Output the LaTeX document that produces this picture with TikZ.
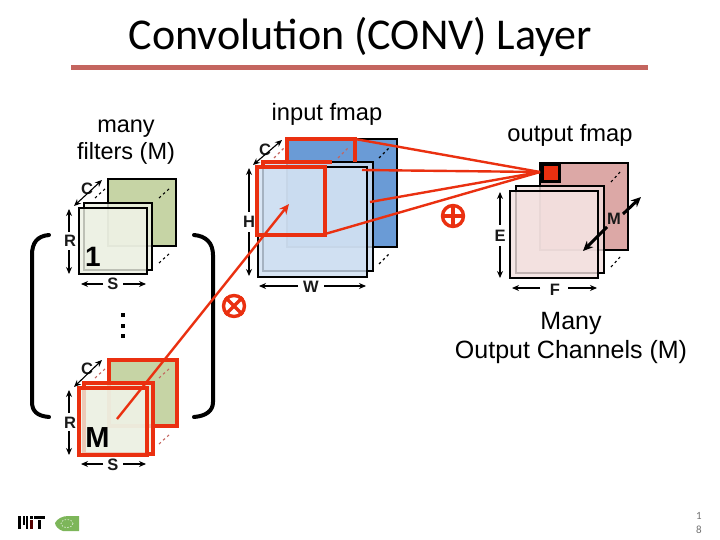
\documentclass[tikz,border=0pt]{standalone}
\usepackage{fontspec}
\setmainfont{Liberation Sans}
\newfontfamily\titlefont{Carlito}
\usetikzlibrary{arrows.meta}
\definecolor{redl}{HTML}{EA3010}
\definecolor{greenf}{HTML}{C6D4A5}
\definecolor{bluef}{HTML}{6A9BD6}
\definecolor{pinkf}{HTML}{DCA8A6}
\definecolor{greent}{HTML}{EDF1E3}
\definecolor{bluet}{HTML}{CFDFF2}
\definecolor{pinkt}{HTML}{F3E0DF}
\definecolor{rulec}{HTML}{C4655F}
\definecolor{leaf}{HTML}{7DB65A}
\tikzset{
 sheet/.style={draw=black,line width=2.7pt,fill=#1,fill opacity=0.8,draw opacity=1},
 backsheet/.style={draw=black,line width=2.7pt,fill=#1},
 redsheet/.style={draw=redl,line width=4pt,fill=#1,fill opacity=0.8,draw opacity=1},
 redback/.style={draw=redl,line width=4pt,fill=#1},
 redbox/.style={draw=redl,line width=3.6pt},
 redline/.style={draw=redl,line width=2.4pt},
 dim/.style={draw=black,line width=1.1pt,{Stealth[length=7pt,width=6pt]}-{Stealth[length=7pt,width=6pt]}},
 dimone/.style={draw=black,line width=1.1pt,-{Stealth[length=7pt,width=6pt]}},
 dots/.style={draw=#1,line width=1.1pt,dash pattern=on 2.5pt off 3pt},
 lab/.style={font=\bfseries\fontsize{16.5}{16.5}\selectfont,inner sep=0pt,text=black!90},
 txt/.style={font=\fontsize{23.7}{28}\selectfont,inner sep=0pt,align=center},
 opmark/.style={circle,draw=redl,line width=3.4pt,minimum size=21pt,inner sep=0pt},
 brack/.style={draw=black,line width=4pt,line cap=round},
}
\begin{document}
\begin{tikzpicture}[x=1pt,y=-1pt]
\useasboundingbox (0,0) rectangle (720,540);
\fill[white] (0,0) rectangle (720,540);
% title
\node[font=\titlefont\fontsize{44}{44}\selectfont,inner sep=0pt] (title) at (360.5,37) {Convolution (CONV) Layer};
\fill[rulec] (71,65.5) rectangle (648,70.5);
% labels
\node[txt] (tinput) at (327,114.5) {input fmap};
\node[txt] (toutput) at (570,135) {output fmap};
\node[txt,font=\fontsize{23.5}{27}\selectfont] (tmany) at (126,142.5) {many\\filters (M)};
\node[txt,font=\fontsize{25}{28.5}\selectfont] (tchan) at (571,338) {Many\\Output Channels (M)};
% filters top
\draw[backsheet=greenf] (108,179) rectangle (176,246);
\draw[sheet=greent] (84,203) rectangle (152,270);
\draw[sheet=greent] (79,208) rectangle (147,274);
\draw[dots=black] (95,198) -- (106,188);
\draw[dots=black] (159,198) -- (170,188);
\draw[dots=black] (159,263) -- (170,253);
\node[lab] (c1) at (87,189) {C};
\draw[dim] (74,206) -- (102,180);
\node[lab] (r1) at (70,241) {R};
\draw[dimone] (69,232) -- (69,209);
\draw[dimone] (69,250) -- (69,274);
\node[lab] (s1) at (113,284) {S};
\draw[dimone] (103,284) -- (81,284);
\draw[dimone] (123,284) -- (146,284);
\node[font=\bfseries\fontsize{28}{28}\selectfont,inner sep=0pt] (one) at (93,257) {1};
% filters bottom
\draw[redback=greenf] (109,360) rectangle (177,426);
\draw[redsheet=greent] (84,383) rectangle (153,454);
\draw[redsheet=greent] (79,388) rectangle (147,455);
\draw[dots=rulec] (95,378) -- (106,368);
\draw[dots=rulec] (159,378) -- (170,368);
\draw[dots=rulec] (159,444) -- (170,434);
\node[lab] (c2) at (87,369) {C};
\draw[dim] (74,387) -- (102,360);
\node[lab] (r2) at (70,423) {R};
\draw[dimone] (69,413) -- (69,390);
\draw[dimone] (69,431) -- (69,455);
\node[lab] (s2) at (113,465) {S};
\draw[dimone] (103,464) -- (81,464);
\draw[dimone] (123,464) -- (146,464);
\node[font=\fontsize{29}{29}\selectfont\bfseries,inner sep=0pt] (mm) at (97.5,438) {M};
% brackets
\draw[brack] (49,235) .. controls (37,236) and (32,243) .. (32,255) -- (32,402) .. controls (32,411) and (37,416) .. (49,417);
\draw[brack] (194,235) .. controls (206,236) and (213,243) .. (213,255) -- (213,402) .. controls (213,411) and (206,416) .. (194,417);
% vertical dots
\foreach \yy in {315,325.5,336} \fill[black] (120.5,\yy-2) rectangle (125,\yy+2);
% input fmap
\draw[backsheet=bluef] (287,139) rectangle (397,247);
\draw[sheet=bluet] (263,162) rectangle (373,271);
\draw[sheet=bluet] (258,167) rectangle (367,277);
\draw[dots=black] (379,158) -- (389,148);
\draw[dots=black] (379,264) -- (389,254);
\draw[dots=rulec] (274,158) -- (284,148);
\draw[dots=rulec] (338,158) -- (348,148);
% red windows on input
\draw[redbox] (287,162) |- (355,139) -- (355,162);
\draw[redbox] (263,167) |- (332,162);
\draw[redbox] (257,167) rectangle (325,235);
\node[lab] (c3) at (265,150) {C};
\draw[dim] (253,165) -- (282,140);
\node[lab] (h) at (249,222) {H};
\draw[dimone] (249,212) -- (249,168);
\draw[dimone] (249,232) -- (249,276);
\node[lab] (w) at (311,287) {W};
\draw[dimone] (298,286) -- (259,286);
\draw[dimone] (324,286) -- (366,286);
% output fmap
\draw[backsheet=pinkf] (540,163) rectangle (628,250);
\draw[sheet=pinkt] (516,186) rectangle (604,273);
\draw[sheet=pinkt] (510,191) rectangle (598,278);
\draw[dots=black] (611,182) -- (621,171);
\draw[dots=black] (611,267) -- (621,256);
\node[draw=black,line width=2.7pt,fill=redl,minimum size=17pt,inner sep=0pt,anchor=north west] (px) at (541,163.5) {};
% red lines
\coordinate (la) at (355,139);
\coordinate (lb) at (362,170);
\coordinate (lc) at (370,202);
\coordinate (ld) at (325,234);
\coordinate (pxt) at (540,172);
\draw[redline] (la) -- (pxt);
\draw[redline] (lb) -- (pxt);
\draw[redline] (lc) -- (pxt);
\draw[redline] (ld) -- (pxt);
\node[lab] (m) at (614,219) {M};
\draw[draw=black,line width=3pt,-{Stealth[length=10pt,width=9pt]}] (623,214) -- (641,197);
\draw[draw=black,line width=3pt,-{Stealth[length=10pt,width=9pt]}] (607,227) -- (583,251);
\node[lab] (e) at (500,236) {E};
\draw[dimone] (500,225) -- (500,192);
\draw[dimone] (500,246) -- (500,278);
\node[lab] (f) at (555,290) {F};
\draw[dimone] (540,288) -- (512,288);
\draw[dimone] (568,288) -- (597,288);
% operators
\node[opmark] (plus) at (453,216) {};
\draw[redl,line width=3.4pt] (plus.north) -- (plus.south);
\draw[redl,line width=3.4pt] (plus.west) -- (plus.east);
\node[opmark] (times) at (234,306) {};
\draw[redl,line width=3.4pt] (times.north west) -- (times.south east);
\draw[redl,line width=3.4pt] (times.north east) -- (times.south west);
% line from filter to input
\coordinate (fa) at (117,419);
\coordinate (fb) at (289,204);
\draw[redline,-{Stealth[length=10pt,width=9pt]}] (fa) -- (fb);
% logos
\fill[black] (17.5,516) rectangle (21,529);
\fill[black] (22.5,516) rectangle (24.5,525);
\fill[black] (26,516) rectangle (28,529);
\fill[black!45!red!60!black] (30,520) rectangle (32.5,529);
\fill[black] (30,516) rectangle (32.5,518.5);
\fill[black] (34,516) rectangle (45,518.5);
\fill[black] (37.5,520) rectangle (41,529);
\fill[leaf] (79,516) -- (79,531) -- (63,531) .. controls (59,530) and (55,526) .. (55,523) .. controls (57,519) and (62,516) .. (68,516) -- cycle;
\draw[white!70!leaf,line width=0.7pt,dash pattern=on 1.5pt off 1.5pt] (67,523.5) ellipse [x radius=6,y radius=4];
% page number
\node[font=\titlefont\fontsize{11}{11}\selectfont,text=black!55,inner sep=0pt] (p1) at (699,516) {1};
\node[font=\titlefont\fontsize{11}{11}\selectfont,text=black!55,inner sep=0pt] (p2) at (699,530) {8};
\end{tikzpicture}
\end{document}
